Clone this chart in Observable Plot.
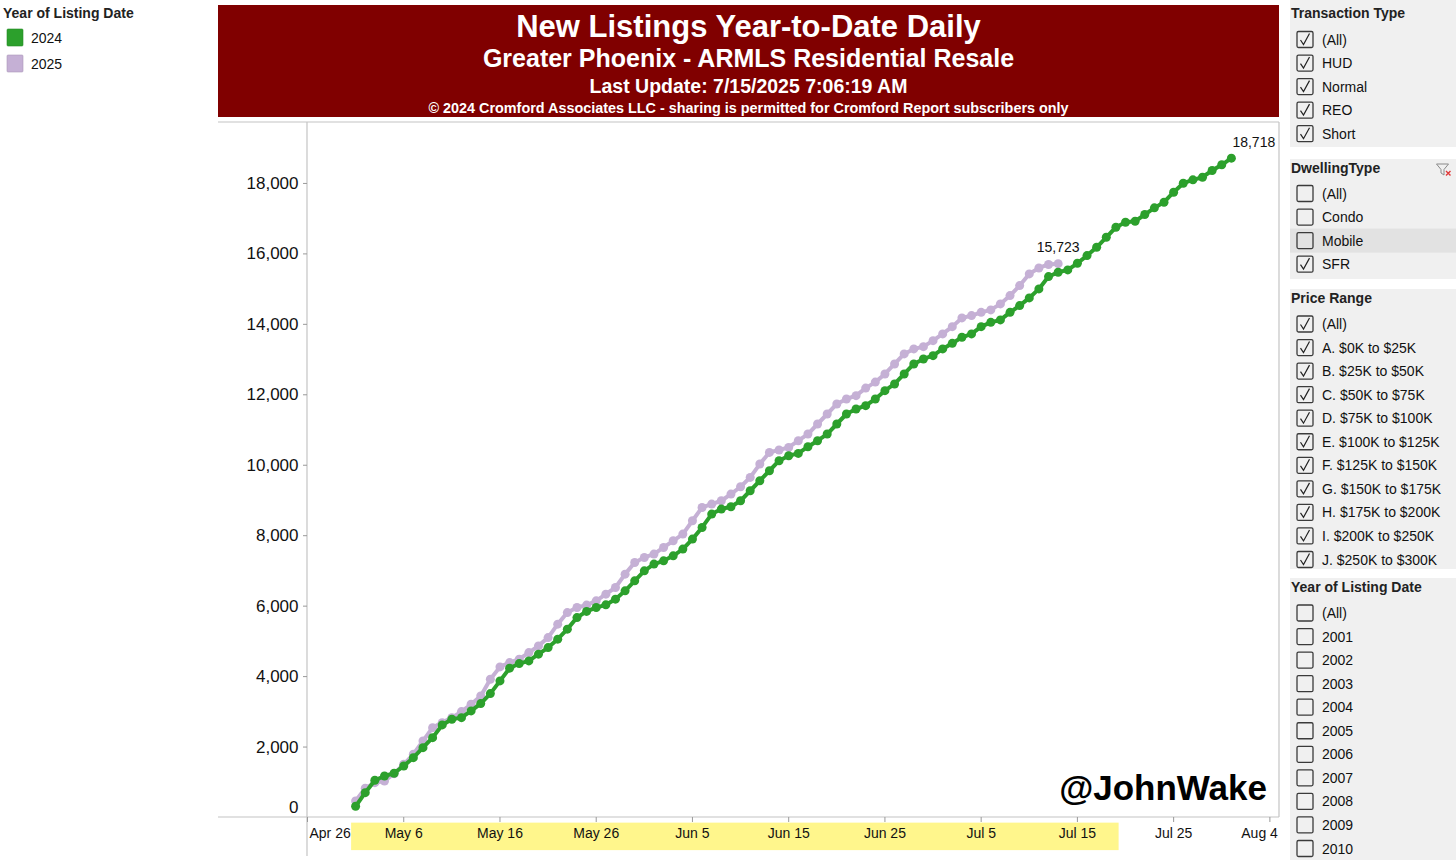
<!DOCTYPE html>
<html>
<head>
<meta charset="utf-8">
<script src="https://cdn.jsdelivr.net/npm/d3@7"></script>
<script src="https://cdn.jsdelivr.net/npm/@observablehq/plot@0.6"></script>
<style>
  body { margin: 0; background: #fff; font-family: "Liberation Sans", Arial, Helvetica, sans-serif; }
  #root { position: relative; width: 1456px; height: 860px; overflow: hidden; }
  #plotwrap { position: absolute; left: 218px; top: 122px; }
</style>
</head>
<body>
<div id="root"><div id="plotwrap"></div></div>
<script>
// ---------- data ----------
const titleText = "New Listings Year-to-Date Daily";
const subtitleText = "Greater Phoenix - ARMLS Residential Resale";
const updateText = "Last Update: 7/15/2025 7:06:19 AM";
const copyrightText = "\u00A9 2024 Cromford Associates LLC - sharing is permitted for Cromford Report subscribers only";
const legendTitle = "Year of Listing Date";
const seriesYears = ["2024", "2025"];
const seriesColors = ["#2ca02c", "#c5b0d5"];
const seriesStart = "2025-05-01"; // month/day axis; both series start May 1
const values2024 = [318,705,1057,1179,1256,1463,1699,1983,2267,2628,
  2790,2835,3026,3233,3517,3878,4239,4370,4446,4637,
  4824,5063,5347,5676,5850,5960,6037,6198,6435,6719,
  7003,7193,7287,7429,7619,7903,8234,8614,8756,8821,
  8992,9276,9560,9844,10128,10270,10336,10526,10696,10886,
  11171,11455,11597,11691,11881,12117,12307,12591,12875,13017,
  13111,13302,13461,13632,13728,13935,14057,14125,14341,14532,
  14750,15006,15356,15478,15546,15733,15952,16188,16472,16756,
  16898,16927,17117,17307,17467,17751,18007,18102,18177,18367,
  18529,18718];
const values2025 = [469,830,989,1037,1244,1511,1795,2173,2551,2693,
  2835,3006,3216,3452,3926,4276,4398,4494,4682,4872,
  5108,5489,5818,5960,6030,6150,6341,6529,6909,7240,
  7382,7477,7666,7855,8045,8424,8802,8898,8992,9182,
  9389,9654,10034,10364,10432,10506,10696,10886,11171,11455,
  11739,11881,11975,12190,12360,12591,12875,13160,13302,13367,
  13537,13728,13935,14182,14248,14341,14410,14580,14816,15100,
  15432,15600,15700,15723];
const yTicks = [0,2000,4000,6000,8000,10000,12000,14000,16000,18000];
const xTickDates = ["2025-04-26","2025-05-06","2025-05-16","2025-05-26","2025-06-05","2025-06-15","2025-06-25","2025-07-05","2025-07-15","2025-07-25","2025-08-04"];
const xTickLabels = ["Apr 26","May 6","May 16","May 26","Jun 5","Jun 15","Jun 25","Jul 5","Jul 15","Jul 25","Aug 4"];
const xDomain = ["2025-04-26","2025-08-05"];
const yMax = 19730;
const highlightRange = ["2025-04-30T14:00","2025-07-19T08:00"];
const watermark = "@JohnWake";

const transactionTypes = ["(All)","HUD","Normal","REO","Short"];
const transactionChecked = [true,true,true,true,true];
const dwellingTypes = ["(All)","Condo","Mobile","SFR"];
const dwellingChecked = [false,false,false,true];
const priceRanges = ["(All)","A. $0K to $25K","B. $25K to $50K","C. $50K to $75K","D. $75K to $100K","E. $100K to $125K","F. $125K to $150K","G. $150K to $175K","H. $175K to $200K","I. $200K to $250K","J. $250K to $300K"];
const priceChecked = priceRanges.map(() => true);
const listingYears = ["(All)","2001","2002","2003","2004","2005","2006","2007","2008","2009","2010"];
const listingChecked = listingYears.map(() => false);

// ---------- background / decorations ----------
const W = 1456, H = 860;
const FONT = "'Liberation Sans', Arial, Helvetica, sans-serif";
const root = d3.select("#root");
const bg = root.insert("svg", "#plotwrap").attr("width", W).attr("height", H)
  .style("position", "absolute").style("left", 0).style("top", 0)
  .attr("font-family", FONT);

// left legend
bg.append("text").attr("x", 3).attr("y", 18).attr("font-weight", "bold").attr("font-size", 14).attr("fill", "#222").text(legendTitle);
seriesYears.forEach((yr, i) => {
  bg.append("rect").attr("x", 7).attr("y", 29 + i * 26).attr("width", 16).attr("height", 17).attr("rx", 1)
    .attr("fill", seriesColors[i]).attr("stroke", d3.color(seriesColors[i]).darker(0.4)).attr("stroke-width", 0.6);
  bg.append("text").attr("x", 31).attr("y", 43 + i * 26).attr("font-size", 14).attr("fill", "#111").text(yr);
});

// header
bg.append("rect").attr("x", 218).attr("y", 5).attr("width", 1061).attr("height", 112).attr("fill", "#800000");
[[titleText, 31, 37], [subtitleText, 25, 67], [updateText, 19.5, 93], [copyrightText, 14.4, 113]].forEach(([t, fs, y]) => {
  bg.append("text").attr("x", 748.5).attr("y", y).attr("text-anchor", "middle").attr("font-weight", "bold")
    .attr("font-size", fs).attr("fill", "#fff").text(t);
});

// frame lines
const lineCol = "#c4c4c4";
[[218, 122, 1279, 122], [307, 122, 307, 856], [218, 817, 1279, 817], [1279, 122, 1279, 817]].forEach(([x1, y1, x2, y2]) => {
  bg.append("line").attr("x1", x1).attr("y1", y1).attr("x2", x2).attr("y2", y2).attr("stroke", lineCol).attr("stroke-width", 1.2);
});

// watermark
bg.append("text").attr("x", 1267).attr("y", 800).attr("text-anchor", "end").attr("font-weight", "bold")
  .attr("font-size", 35).attr("fill", "#000").text(watermark);

// right filter panel
function checkbox(g, cx, cy, checked) {
  g.append("rect").attr("x", cx).attr("y", cy - 8).attr("width", 16).attr("height", 16).attr("rx", 1.5)
    .attr("fill", "none").attr("stroke", "#3a3a3a").attr("stroke-width", 1.3);
  if (checked) {
    g.append("path").attr("d", `M${cx + 3.5},${cy + 0.5} L${cx + 6.5},${cy + 5} L${cx + 12.5},${cy - 6}`)
      .attr("fill", "none").attr("stroke", "#222").attr("stroke-width", 1.2);
  }
}
function section(title, y0, y1, headerY, firstRowY, items, checked, highlightIdx) {
  bg.append("rect").attr("x", 1290).attr("y", y0).attr("width", 166).attr("height", y1 - y0).attr("fill", "#f0f0f0");
  bg.append("text").attr("x", 1291).attr("y", headerY).attr("font-weight", "bold").attr("font-size", 14).attr("fill", "#222").text(title);
  items.forEach((it, i) => {
    const cy = firstRowY + i * 23.55;
    if (i === highlightIdx) bg.append("rect").attr("x", 1290).attr("y", cy - 12).attr("width", 166).attr("height", 24).attr("fill", "#e2e2e2");
    checkbox(bg, 1297, cy, checked[i]);
    bg.append("text").attr("x", 1322).attr("y", cy + 5).attr("font-size", 14).attr("fill", "#111").text(it);
  });
}
section("Transaction Type", 0, 147, 18, 39.5, transactionTypes, transactionChecked, -1);
section("DwellingType", 159, 279, 173, 193.5, dwellingTypes, dwellingChecked, 2);
section("Price Range", 289, 569, 303, 324, priceRanges, priceChecked, -1);
section("Year of Listing Date", 578, 860, 592, 613, listingYears, listingChecked, -1);
// filter-cleared icon
bg.append("path").attr("d", "M1436.5,164 L1448.5,164 L1444,169.5 L1444,175 L1441,173 L1441,169.5 Z")
  .attr("fill", "none").attr("stroke", "#8a8a8a").attr("stroke-width", 1);
bg.append("path").attr("d", "M1446,171 L1450.5,175.5 M1450.5,171 L1446,175.5")
  .attr("stroke", "#e03a3a").attr("stroke-width", 1.4);

// ---------- chart ----------
const parse = d3.utcParse("%Y-%m-%d");
const parseT = d3.utcParse("%Y-%m-%dT%H:%M");
const start = parse(seriesStart);
const rows2024 = values2024.map((v, i) => ({ date: d3.utcDay.offset(start, i), value: v, year: seriesYears[0] }));
const rows2025 = values2025.map((v, i) => ({ date: d3.utcDay.offset(start, i), value: v, year: seriesYears[1] }));
const ticks = xTickDates.map((d, i) => ({ date: parse(d), label: xTickLabels[i] }));
const fmt = d3.format(",");

const plot = Plot.plot({
  width: 1061, height: 738,
  marginLeft: 89, marginRight: 0, marginTop: 0, marginBottom: 43,
  style: { fontFamily: FONT, background: "transparent", overflow: "visible", color: "#111" },
  x: { type: "utc", domain: xDomain.map(parse) },
  y: { domain: [0, yMax] },
  color: { domain: seriesYears, range: seriesColors },
  marks: [
    // highlighted axis range band
    Plot.rect([{ x1: parseT(highlightRange[0]), x2: parseT(highlightRange[1]) }], {
      x1: "x1", x2: "x2", y1: -160, y2: -940, fill: "#fff68c", clip: false
    }),
    Plot.axisY({ ticks: yTicks.filter(d => d > 0), tickSize: 4, tickPadding: 5, fontSize: 17,
      tickFormat: fmt, stroke: "#999", fill: "#111", label: null }),
    Plot.text([0], { y: d => d, frameAnchor: "left", text: d => fmt(d), dx: -9, dy: -10, textAnchor: "end", fontSize: 17, fill: "#111" }),
    Plot.axisX({ ticks: ticks.map(d => d.date), tickSize: 5, tickFormat: () => "", stroke: "#999", label: null }),
    Plot.text(ticks.slice(0, 1), { x: "date", text: "label", frameAnchor: "bottom", dy: 20, dx: 2, textAnchor: "start", fontSize: 14, fill: "#111" }),
    Plot.text(ticks.slice(1, -1), { x: "date", text: "label", frameAnchor: "bottom", dy: 20, textAnchor: "middle", fontSize: 14, fill: "#111" }),
    Plot.text(ticks.slice(-1), { x: "date", text: "label", frameAnchor: "bottom", dy: 20, dx: 8, textAnchor: "end", fontSize: 14, fill: "#111" }),
    // series (2025 underneath, 2024 on top)
    Plot.line(rows2025, { x: "date", y: "value", stroke: "year", strokeWidth: 4 }),
    Plot.dot(rows2025, { x: "date", y: "value", fill: "year", r: 4.5 }),
    Plot.line(rows2024, { x: "date", y: "value", stroke: "year", strokeWidth: 4 }),
    Plot.dot(rows2024, { x: "date", y: "value", fill: "year", r: 4.5 }),
    // end labels
    Plot.text(rows2024.slice(-1), { x: "date", y: "value", text: d => fmt(d.value), dx: 1, dy: -16, textAnchor: "start", fontSize: 14, fill: "#111" }),
    Plot.text(rows2025.slice(-1), { x: "date", y: "value", text: d => fmt(d.value), dy: -16, textAnchor: "middle", fontSize: 14, fill: "#111" })
  ]
});
document.getElementById("plotwrap").appendChild(plot);
</script>
</body>
</html>
